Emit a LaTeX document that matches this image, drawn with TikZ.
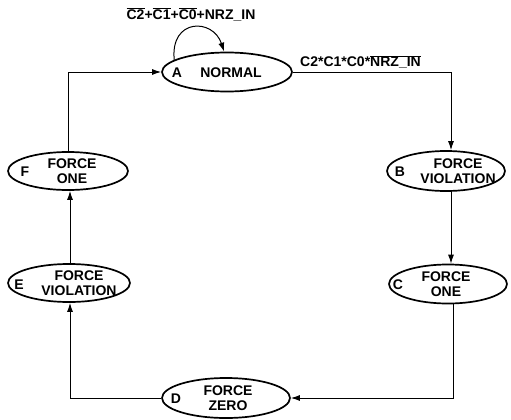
\documentclass[tikz,border=0pt]{standalone}
\usepackage{fontspec}
\setmainfont{Liberation Sans}
\usetikzlibrary{shapes.geometric,arrows.meta,calc}
\newcommand{\olbar}[1]{$\overline{\mbox{#1}}$}
\begin{document}
\begin{tikzpicture}[x=1pt,y=-1pt,
  st/.style={draw,ellipse,line width=1.7pt,inner sep=0pt},
  txt/.style={font=\fontsize{14}{15.5}\selectfont\bfseries,align=center,inner sep=0pt},
  lab/.style={font=\fontsize{14}{15.5}\selectfont\bfseries,inner sep=0pt},
  conn/.style={line width=1pt,-{Latex[length=9pt,width=6pt]}},
]
\useasboundingbox (0,0) rectangle (511,420);
% states
\node[st,minimum width=130pt,minimum height=39pt] (A) at (227,72) {};
\node[lab] (Al) at (177,73) {A};
\node[txt] (At) at (231,73) {NORMAL};

\node[st,minimum width=118pt,minimum height=40pt] (B) at (446,171) {};
\node[lab] (Bl) at (400,172) {B};
\node[txt] (Bt) at (458,171) {FORCE\\VIOLATION};

\node[st,minimum width=118pt,minimum height=39pt] (C) at (448,284) {};
\node[lab] (Cl) at (398,285) {C};
\node[txt] (Ct) at (446,284) {FORCE\\ONE};

\node[st,minimum width=128pt,minimum height=40pt] (D) at (226,398) {};
\node[lab] (Dl) at (176,399) {D};
\node[txt] (Dt) at (228,398) {FORCE\\ZERO};

\node[st,minimum width=122pt,minimum height=38pt] (E) at (69,283) {};
\node[lab] (El) at (19,285) {E};
\node[txt] (Et) at (79,283) {FORCE\\VIOLATION};

\node[st,minimum width=120pt,minimum height=38pt] (F) at (68,171) {};
\node[lab] (Fl) at (25,172) {F};
\node[txt] (Ft) at (72,171) {FORCE\\ONE};

% labels
\node[lab] (L1) at (191,14) {\olbar{C2}+\olbar{C1}+\olbar{C0}+NRZ\_IN};
\node[lab,anchor=west] (L2) at (300,62) {C2*C1*C0*\olbar{NRZ\_IN}};

% connectors
\draw[conn] (A.167) .. controls (170,18) and (213,18) .. (A.98);
\draw[conn] (A.east) -| ([xshift=5pt]B.north);
\draw[conn] ([xshift=5pt]B.south) -- ([xshift=5pt]B.south |- C.north);
\draw[conn] ([xshift=5pt]C.south) |- (D.east);
\draw[conn] (D.west) -| ([xshift=1pt]E.south);
\draw[conn] ([xshift=1pt]E.north) -- ([xshift=1pt]E.north |- F.south);
\draw[conn] (F.north) |- (A.west);
\end{tikzpicture}
\end{document}
